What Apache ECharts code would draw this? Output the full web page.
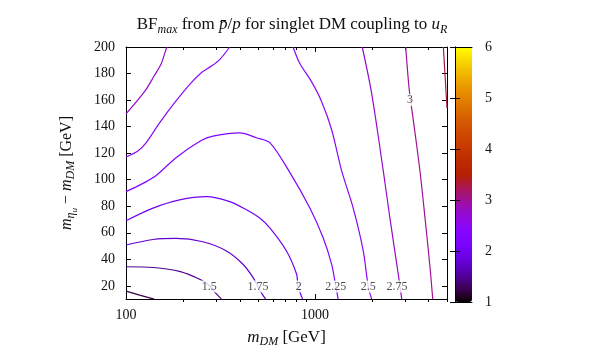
<!DOCTYPE html>
<html>
<head>
<meta charset="utf-8">
<script src="https://cdn.jsdelivr.net/npm/echarts@6/dist/echarts.min.js"></script>
<style>
  html, body { margin: 0; padding: 0; background: #fff; }
  #chart { width: 603px; height: 353px; }
</style>
</head>
<body>
<div id="chart"></div>
<script>
var chartDom = document.getElementById("chart")
var chart = echarts.init(chartDom)

var serif = "Liberation Serif"

// contour lines, [m_DM, m_eta - m_DM]
var c125 = [[100, 16.0], [118, 13.0], [141, 10]]
var c150 = [[100, 34.4], [139, 33.8], [192, 30.9], [250, 24.4], [280, 19.5], [295, 15.2], [320, 10]]
var c175 = [[100, 50.8], [139, 54.9], [184, 55.7], [255, 53.2], [340, 46.3], [416, 36.3], [470, 26.4], [498, 19.5], [531, 12.8], [549, 10]]
var c200 = [[100, 69.1], [139, 78.6], [192, 84.8], [266, 87.3], [354, 83.5], [434, 77.3], [510, 71.1], [577, 63.7], [707, 46.3], [799, 28.9], [815, 19.5], [860, 10]]
var c225 = [[100, 91], [123, 97.2], [145, 103.4], [184, 116.6], [250, 129.5], [289, 132.8], [400, 135.3], [490, 131.6], [577, 127.9], [736, 105.5], [940, 78.6], [1105, 56.2], [1225, 36.3], [1290, 19.5], [1327, 10]]
var c250a = [[100, 117.1], [115.5, 121.6], [128, 127.9], [150.5, 142.8], [184.5, 159.5], [221.6, 173.1], [250.4, 180.6], [283.1, 185.6], [313.2, 190.5], [354, 200]]
var c250b = [[766, 200], [832, 187.5], [959, 173.9], [1084, 159], [1225, 137.8], [1384, 106.8], [1594, 78.6], [1802, 46.3], [1915, 19.5], [1996, 10]]
var c275a = [[100, 149.6], [125.3, 166.3], [141.6, 178.7], [153.7, 187.4], [160, 194.8], [164.5, 200]]
var c275b = [[1780, 200], [1996, 165], [2299, 106.8], [2495, 70.9], [2761, 28.6], [2820, 19.5], [2880, 10]]
var c300 = [[3023, 200], [3160, 167], [3318, 144.7], [3599, 106.2], [3825, 71.1], [4066, 33.8], [4203, 10]]
var c325 = [[4783, 200], [5000, 154]]

var contours = [c125, c150, c175, c200, c225, c250a, c250b, c275a, c275b, c300, c325]
var contourLevels = [1.25, 1.5, 1.75, 2, 2.25, 2.5, 2.5, 2.75, 2.75, 3, 3.25]

var labelPts = [[276, 19.5], [500, 19.5], [822, 19.5], [1290, 19.5], [1915, 19.5], [2720, 19.5], [3187, 160]]
var labelText = ["1.5", "1.75", "2", "2.25", "2.5", "2.75", "3"]

var xMajor = [100, 1000]
var xMinor = [200, 300, 400, 500, 600, 700, 800, 900, 2000, 3000, 4000, 5000]
var yTicks = [20, 40, 60, 80, 100, 120, 140, 160, 180, 200]

// gnuplot default palette (rgbformulae 7,5,15) on cb range 1..6
function pal(v) {
  var t = (v - 1) / 5
  var r = Math.sqrt(t)
  var g = t * t * t
  var b = Math.max(0, Math.sin(2 * Math.PI * t))
  return "rgb(" + Math.round(r * 255) + "," + Math.round(g * 255) + "," + Math.round(b * 255) + ")"
}

var barColors = []
for (var v = 1; v <= 6.001; v += 0.125) barColors.push(pal(v))

var txt = { fontFamily: serif, fontSize: 14, color: "#111" }
var black = { color: "#000", width: 1 }

function makeRich(size) {
  var base = { fontFamily: serif, fontWeight: "normal", color: "#111" }
  return {
    n: Object.assign({ fontSize: size, lineHeight: size + 3 }, base),
    i: Object.assign({ fontSize: size, lineHeight: size + 3, fontStyle: "italic" }, base),
    s: Object.assign({ fontSize: Math.round(size * 0.72), lineHeight: Math.round(size * 0.72), fontStyle: "italic", padding: [9, 0, 0, 0] }, base),
    ss: Object.assign({ fontSize: Math.round(size * 0.55), lineHeight: Math.round(size * 0.55), fontStyle: "italic", padding: [16, 0, 0, 0] }, base),
  }
}

var plotRect = { left: 126, top: 47, width: 321, height: 255 }

function logX(grid, pos, ticks, len, line) {
  return {
    type: "log", logBase: 10, gridIndex: grid, position: pos, min: 100, max: 5000,
    axisLine: { show: line, lineStyle: black },
    axisTick: { show: true, inside: true, length: len, customValues: ticks, lineStyle: black },
    axisLabel: { show: false },
    splitLine: { show: false },
  }
}

var xBottom = logX(0, "bottom", xMajor, 5, true)
xBottom.axisLabel = Object.assign({ show: true, customValues: xMajor, margin: 9,
  formatter: function (v) { return String(Math.round(v)) } }, txt)
xBottom.name = "{i|m}{s|DM}{n| [GeV]}"
xBottom.nameLocation = "middle"
xBottom.nameGap = 26
xBottom.nameTextStyle = { rich: makeRich(17) }

var lineSeries = contours.map(function (d, i) {
  return {
    type: "line", xAxisIndex: 0, yAxisIndex: 0, data: d,
    symbol: "none", showSymbol: false, smooth: 0.3, clip: true,
    lineStyle: { width: 1.2, color: pal(contourLevels[i]) },
    z: 2, silent: true,
  }
})

option = {
  animation: false,
  backgroundColor: "#fff",
  title: {
    text: "{n|BF}{s|max}{n| from }{i|p\u0304}{n|/}{i|p}{n| for singlet DM coupling to }{i|u}{s|R}",
    left: 287, top: 10, textAlign: "center",
    textStyle: { fontWeight: "normal", rich: makeRich(17) },
  },
  grid: [
    plotRect,
    plotRect,
    { left: 455, top: 47, width: 17, height: 255 },
  ],
  visualMap: {
    type: "continuous", min: 1, max: 6, seriesIndex: contours.length + 1,
    left: 455, top: 47, itemWidth: 17, itemHeight: 255, padding: 0,
    calculable: false, hoverLink: false, inRange: { color: barColors },
  },
  xAxis: [
    xBottom,
    logX(0, "top", xMajor, 5, true),
    logX(1, "bottom", xMinor, 3, false),
    logX(1, "top", xMinor, 3, false),
    { type: "value", gridIndex: 2, position: "bottom", min: 0, max: 1, z: 10,
      axisLine: { lineStyle: black }, axisTick: { show: false }, axisLabel: { show: false }, splitLine: { show: false } },
    { type: "value", gridIndex: 2, position: "top", min: 0, max: 1, z: 10,
      axisLine: { lineStyle: black }, axisTick: { show: false }, axisLabel: { show: false }, splitLine: { show: false } },
  ],
  yAxis: [
    { type: "value", gridIndex: 0, position: "left", min: 10, max: 200,
      axisLine: { lineStyle: black },
      axisTick: { inside: true, length: 5, customValues: yTicks, lineStyle: black },
      axisLabel: Object.assign({ customValues: yTicks, margin: 11 }, txt),
      splitLine: { show: false },
      name: "{i|m}{s|\u03b7}{ss|u}{n| \u2212 }{i|m}{s|DM}{n| [GeV]}",
      nameLocation: "middle", nameGap: 50, nameRotate: 90,
      nameTextStyle: { rich: makeRich(16) } },
    { type: "value", gridIndex: 0, position: "right", min: 10, max: 200,
      axisLine: { lineStyle: black },
      axisTick: { inside: true, length: 5, customValues: yTicks, lineStyle: black },
      axisLabel: { show: false }, splitLine: { show: false } },
    { type: "value", gridIndex: 1, min: 10, max: 200, show: false },
    { type: "value", gridIndex: 2, position: "left", min: 1, max: 6, interval: 1, z: 10,
      axisLine: { lineStyle: black },
      axisTick: { inside: true, length: 5, lineStyle: black },
      axisLabel: { show: false }, splitLine: { show: false } },
    { type: "value", gridIndex: 2, position: "right", min: 1, max: 6, interval: 1, z: 10,
      axisLine: { lineStyle: black },
      axisTick: { inside: true, length: 5, lineStyle: black },
      axisLabel: Object.assign({ margin: 13 }, txt), splitLine: { show: false } },
  ],
  series: lineSeries.concat([
    {
      type: "scatter", xAxisIndex: 0, yAxisIndex: 0, symbolSize: 1, z: 5, silent: true,
      itemStyle: { color: "rgba(0,0,0,0)" },
      data: labelPts.map(function (p, i) { return [p[0], p[1], labelText[i]] }),
      label: {
        show: true, position: "inside", formatter: function (p) { return p.value[2] },
        fontFamily: serif, fontSize: 12, color: "#222", backgroundColor: "#fff", padding: [0, 1],
      },
    },
    { type: "scatter", xAxisIndex: 4, yAxisIndex: 3, data: [], silent: true },
  ]),
}

chart.setOption(option)
</script>
</body>
</html>
